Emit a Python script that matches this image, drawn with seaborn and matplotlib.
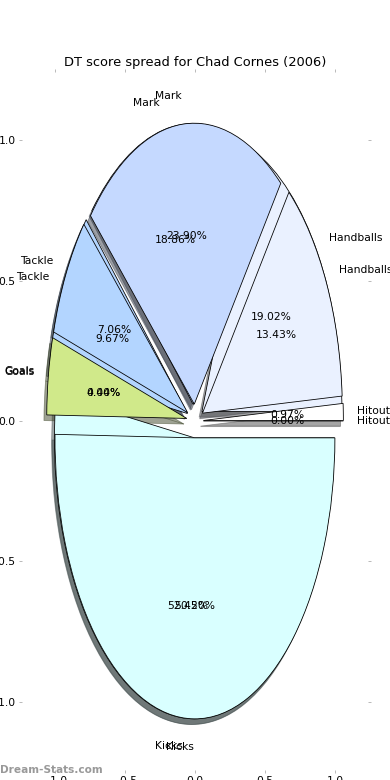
import matplotlib
matplotlib.use("Agg")
import matplotlib.pyplot as plt
import seaborn as sns

# DT score spread, two pies drawn on the same axes
stats = ['Hitout', 'Handballs', 'Mark', 'Tackle', 'Goals', 'Kicks']
spread_a = [0.00, 19.02, 18.86, 9.67, 0.00, 52.45]
spread_b = [0.97, 13.43, 23.90, 7.06, 4.44, 50.20]
colors = ['#ffffff', '#eaf1ff', '#c5d9ff', '#b3d5ff', '#d0e98a', '#d9ffff']
ticks = [-1.0, -0.5, 0.0, 0.5, 1.0]

sns.set_theme(style='white')
plt.rcParams['font.family'] = ['DejaVu Sans']
plt.rcParams['font.size'] = 10.8

fig = plt.figure(figsize=(390 / 72, 780 / 72), dpi=72)
ax = fig.add_axes([22 / 390, 10 / 780, 346 / 390, 698 / 780])

for vals in (spread_a, spread_b):
    ax.pie(vals, labels=stats, colors=colors, autopct='%1.2f%%',
           explode=[0.06] * len(vals), shadow=True, frame=True,
           wedgeprops=dict(edgecolor='black', linewidth=0.8),
           textprops=dict(color='black', fontsize=10.8))

ax.set_aspect('auto')
ax.set_xlim(-1.236, 1.236)
ax.set_ylim(-1.242, 1.242)
ax.set_xticks(ticks)
ax.set_yticks(ticks)
for s in ax.spines.values():
    s.set_visible(False)
ax.tick_params(which='both', bottom=True, left=True, top=True, right=True,
               direction='out', length=3, width=1, color='#bbbbbb',
               labelsize=10.8, labelcolor='black')
ax.set_title('DT score spread for Chad Cornes (2006)', fontsize=13, color='black')

fig.text(0.0, 1 - 770 / 780, 'Dream-Stats.com', color='#999999', fontsize=10.5,
         fontweight='bold', ha='left', va='center')

plt.savefig('out.png', dpi=72)
plt.close()
